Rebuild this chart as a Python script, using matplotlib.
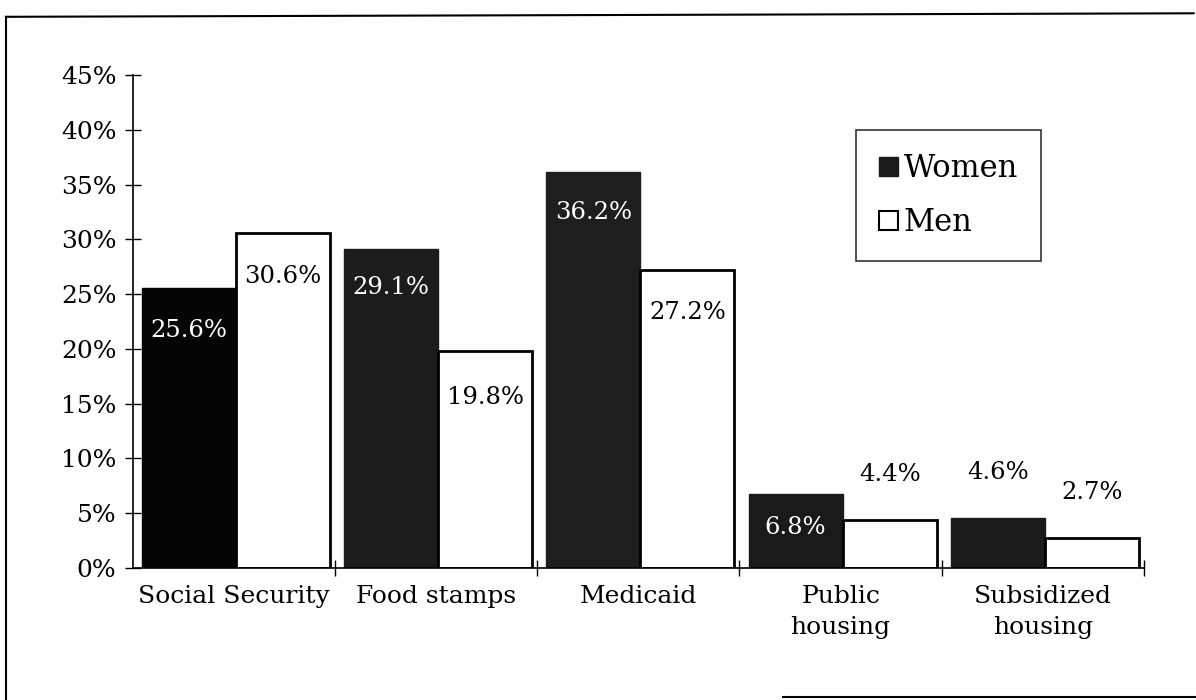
import matplotlib
matplotlib.use("Agg")
import matplotlib.pyplot as plt
import numpy as np
from matplotlib.lines import Line2D
from matplotlib.patches import Patch

categories = ["Social Security", "Food stamps", "Medicaid", "Public\nhousing", "Subsidized\nhousing"]
women = [25.6, 29.1, 36.2, 6.8, 4.6]
men = [30.6, 19.8, 27.2, 4.4, 2.7]
women_labels = ["25.6%", "29.1%", "36.2%", "6.8%", "4.6%"]
men_labels = ["30.6%", "19.8%", "27.2%", "4.4%", "2.7%"]
yticks = [0, 5, 10, 15, 20, 25, 30, 35, 40, 45]

# label placement offsets relative to bar top (in % units)
women_off = [-3.9, -3.5, -3.7, -3.1, 4.1]
men_off = [-4.0, -4.2, -3.9, 4.1, 4.2]
women_colors = ["#050505", "#1c1c1c", "#1e1e1e", "#1a1a1a", "#1a1a1a"]

plt.rcParams['font.family'] = ['DejaVu Serif']

fig = plt.figure(figsize=(11.96, 7.0), dpi=100)
ax = fig.add_axes([0.111, 0.1886, 0.8455, 0.704])

x = np.arange(len(categories))
w = 0.465
ax.bar(x - w / 2 + 0.01, women, width=w, color=women_colors, edgecolor=women_colors, linewidth=1)
ax.bar(x + w / 2 + 0.01, men, width=w, color="white", edgecolor="black", linewidth=2)

for i in range(len(categories)):
    wc = "white" if women_off[i] < 0 else "black"
    ax.text(x[i] - w / 2 + 0.01, women[i] + women_off[i], women_labels[i], ha="center", va="center",
            color=wc, fontsize=17.5)
    ax.text(x[i] + w / 2 + 0.01, men[i] + men_off[i], men_labels[i], ha="center", va="center",
            color="black", fontsize=17.5)

ax.set_xlim(-0.5, len(categories) - 0.5)
ax.set_ylim(0, 45)
ax.set_yticks(yticks)
ax.set_yticklabels([f"{t}%" for t in yticks], fontsize=18)
ax.set_xticks(x)
ax.set_xticklabels(categories, fontsize=18, linespacing=1.45)
ax.tick_params(axis="x", length=0, pad=12)
ax.set_xticks(np.arange(len(categories)) + 0.5, minor=True)
ax.tick_params(axis="x", which="minor", direction="inout", length=11, width=1)
ax.tick_params(axis="y", direction="inout", length=11.5, width=1, pad=6)
for s in ["top", "right"]:
    ax.spines[s].set_visible(False)
ax.spines["left"].set_linewidth(1.2)
ax.spines["bottom"].set_linewidth(1.2)

leg_handles = [Patch(facecolor="#1a1a1a", edgecolor="#1a1a1a", label="Women"),
               Patch(facecolor="white", edgecolor="black", linewidth=1.5, label="Men")]
leg = fig.legend(handles=leg_handles, loc="upper left", bbox_to_anchor=(0.716, 0.814),
                 fontsize=22, frameon=True, fancybox=False, edgecolor="black",
                 handlelength=0.6, handleheight=0.6, handletextpad=0.2, labelspacing=0.75,
                 borderpad=0.75, borderaxespad=0)
leg.get_frame().set_linewidth(1.2)

# outer frame
fig.add_artist(Line2D([0.005, 0.998], [0.976, 0.981], color="black", lw=1.5, transform=fig.transFigure))
fig.add_artist(Line2D([0.005, 0.005], [0.976, 0.0], color="black", lw=1.5, transform=fig.transFigure))
fig.add_artist(Line2D([0.655, 1.0], [0.004, 0.004], color="black", lw=1.5, transform=fig.transFigure))

fig.savefig("out.png", dpi=100)
